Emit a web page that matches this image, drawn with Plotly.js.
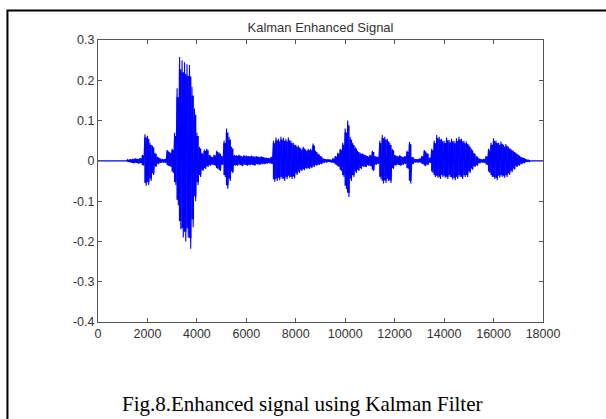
<!DOCTYPE html>
<html>
<head>
<meta charset="utf-8">
<script src="https://cdn.plot.ly/plotly-3.0.1.min.js"></script>
<style>html,body{margin:0;padding:0;background:#fff;}#chart{width:606px;height:419px;}</style>
</head>
<body>
<div id="chart"></div>
<script>
// Sample positions (every 100 samples across the active part of the recording)
const samplePos = [1200,1300,1400,1500,1600,1700,1800,1900,2000,2100,2200,2300,2400,2500,2600,2700,2800,2900,3000,3100,3200,3300,3400,3500,3600,3700,3800,3900,4000,4100,4200,4300,4400,4500,4600,4700,4800,4900,5000,5100,5200,5300,5400,5500,5600,5700,5800,5900,6000,6100,6200,6300,6400,6500,6600,6700,6800,6900,7000,7100,7200,7300,7400,7500,7600,7700,7800,7900,8000,8100,8200,8300,8400,8500,8600,8700,8800,8900,9000,9100,9200,9300,9400,9500,9600,9700,9800,9900,10000,10100,10200,10300,10400,10500,10600,10700,10800,10900,11000,11100,11200,11300,11400,11500,11600,11700,11800,11900,12000,12100,12200,12300,12400,12500,12600,12700,12800,12900,13000,13100,13200,13300,13400,13500,13600,13700,13800,13900,14000,14100,14200,14300,14400,14500,14600,14700,14800,14900,15000,15100,15200,15300,15400,15500,15600,15700,15800,15900,16000,16100,16200,16300,16400,16500,16600,16700,16800,16900,17000,17100,17200,17300,17400];
// Positive peaks
const peakHigh = [0.003,0.004,0.005,0.006,0.005,0.007,0.015,0.066,0.062,0.045,0.038,0.02,0.01,0.006,0.004,0.005,0.027,0.022,0.03,0.07,0.18,0.258,0.25,0.245,0.24,0.238,0.184,0.13,0.07,0.035,0.02,0.028,0.03,0.015,0.01,0.015,0.025,0.02,0.012,0.05,0.08,0.06,0.035,0.015,0.014,0.015,0.012,0.014,0.013,0.012,0.013,0.011,0.012,0.01,0.011,0.009,0.008,0.007,0.01,0.05,0.058,0.055,0.06,0.057,0.055,0.058,0.05,0.045,0.04,0.038,0.031,0.035,0.028,0.03,0.03,0.043,0.025,0.018,0.012,0.006,0.004,0.004,0.003,0.006,0.012,0.02,0.03,0.045,0.08,0.1,0.06,0.045,0.035,0.025,0.02,0.018,0.015,0.012,0.015,0.025,0.012,0.01,0.05,0.064,0.06,0.055,0.045,0.03,0.015,0.012,0.014,0.01,0.012,0.025,0.047,0.01,0.005,0.004,0.006,0.012,0.027,0.02,0.008,0.03,0.05,0.064,0.06,0.055,0.05,0.058,0.052,0.055,0.05,0.056,0.06,0.055,0.05,0.048,0.04,0.03,0.02,0.012,0.006,0.004,0.005,0.012,0.03,0.045,0.056,0.05,0.045,0.048,0.04,0.042,0.035,0.03,0.025,0.02,0.015,0.01,0.008,0.004,0.002];
// Negative peaks
const peakLow = [-0.003,-0.004,-0.006,-0.005,-0.007,-0.006,-0.012,-0.062,-0.06,-0.05,-0.035,-0.015,-0.008,-0.005,-0.004,-0.005,-0.012,-0.015,-0.03,-0.06,-0.11,-0.17,-0.19,-0.2,-0.19,-0.218,-0.165,-0.1,-0.06,-0.04,-0.025,-0.02,-0.015,-0.012,-0.01,-0.012,-0.02,-0.025,-0.01,-0.04,-0.069,-0.05,-0.03,-0.012,-0.012,-0.01,-0.013,-0.01,-0.012,-0.011,-0.01,-0.012,-0.009,-0.01,-0.008,-0.008,-0.007,-0.006,-0.008,-0.052,-0.05,-0.048,-0.045,-0.05,-0.045,-0.042,-0.045,-0.044,-0.035,-0.03,-0.025,-0.023,-0.02,-0.02,-0.018,-0.015,-0.012,-0.01,-0.008,-0.005,-0.004,-0.003,-0.004,-0.005,-0.01,-0.015,-0.025,-0.04,-0.07,-0.09,-0.05,-0.04,-0.03,-0.025,-0.02,-0.015,-0.016,-0.012,-0.014,-0.025,-0.01,-0.008,-0.045,-0.056,-0.055,-0.05,-0.055,-0.02,-0.012,-0.01,-0.012,-0.01,-0.008,-0.02,-0.056,-0.008,-0.004,-0.004,-0.004,-0.008,-0.013,-0.01,-0.005,-0.03,-0.04,-0.042,-0.045,-0.04,-0.042,-0.045,-0.04,-0.046,-0.048,-0.045,-0.04,-0.045,-0.04,-0.04,-0.03,-0.022,-0.015,-0.012,-0.006,-0.004,-0.005,-0.01,-0.03,-0.04,-0.045,-0.048,-0.042,-0.04,-0.042,-0.04,-0.035,-0.028,-0.022,-0.015,-0.012,-0.008,-0.006,-0.003,-0.002];
const recordStart = 0, recordEnd = 18000;

const xTickVals = [0,2000,4000,6000,8000,10000,12000,14000,16000,18000];
const xTickText = ["0","2000","4000","6000","8000","10000","12000","14000","16000","18000"];
const yTickVals = [-0.4,-0.3,-0.2,-0.1,0,0.1,0.2,0.3];
const yTickText = ["-0.4","-0.3","-0.2","-0.1","0","0.1","0.2","0.3"];

// Oscillating trace: each sample swings from its positive to its negative peak
const xs = [recordStart, samplePos[0] - 50], ys = [0, 0];
for (let i = 0; i < samplePos.length; i++) {
  xs.push(samplePos[i]); ys.push(peakHigh[i]);
  xs.push(samplePos[i] + 50); ys.push(peakLow[i]);
}
xs.push(samplePos[samplePos.length - 1] + 100); ys.push(0);
xs.push(recordEnd); ys.push(0);

// Vertical strokes spanning most of each sample's peak-to-peak range (dense body of the waveform)
const vx = [], vy = [];
for (let i = 0; i < samplePos.length; i++) {
  vx.push(samplePos[i] + 25, samplePos[i] + 25, null);
  vy.push(peakHigh[i] * 0.88, peakLow[i] * 0.88, null);
}

const tickFont = {family: 'Arial, "Liberation Sans", sans-serif', size: 12.5, color: '#333'};
const axisBase = {
  showline: true, linecolor: '#555', linewidth: 1, mirror: 'ticks',
  ticks: 'inside', ticklen: 4, tickcolor: '#555', tickwidth: 1,
  showgrid: false, zeroline: false, tickfont: tickFont, tickmode: 'array'
};

const data = [
  {x: vx, y: vy, type: 'scatter', mode: 'lines', line: {color: '#0000ff', width: 2.6, simplify: false}, hoverinfo: 'skip'},
  {x: xs, y: ys, type: 'scatter', mode: 'lines', line: {color: '#0000ff', width: 1.1, simplify: false}, hoverinfo: 'skip'}
];

const layout = {
  width: 606, height: 419,
  paper_bgcolor: '#fff', plot_bgcolor: '#fff',
  margin: {l: 98, r: 63, t: 40, b: 97, autoexpand: false},
  showlegend: false,
  title: {text: 'Kalman Enhanced Signal', font: {family: 'Arial, "Liberation Sans", sans-serif', size: 13, color: '#333'},
          x: 0.5, xref: 'paper', xanchor: 'center', y: 0.934, yref: 'container', yanchor: 'middle'},
  xaxis: Object.assign({}, axisBase, {range: [0, 18000], tickvals: xTickVals, ticktext: xTickText}),
  yaxis: Object.assign({}, axisBase, {range: [-0.4, 0.3], tickvals: yTickVals, ticktext: yTickText}),
  shapes: [{type: 'rect', xref: 'paper', yref: 'paper', x0: -0.2035, x1: 1.2, y0: -0.5, y1: 1.1043,
            line: {color: '#000', width: 2}, fillcolor: 'rgba(0,0,0,0)'}],
  annotations: [{text: 'Fig.8.Enhanced signal using Kalman Filter', xref: 'paper', yref: 'paper',
                 x: 0.4587, y: -0.29, xanchor: 'center', yanchor: 'middle', showarrow: false,
                 font: {family: '"Liberation Serif", "Times New Roman", serif', size: 21, color: '#000'}}]
};

Plotly.newPlot('chart', data, layout, {displayModeBar: false, staticPlot: true});
</script>
</body>
</html>
